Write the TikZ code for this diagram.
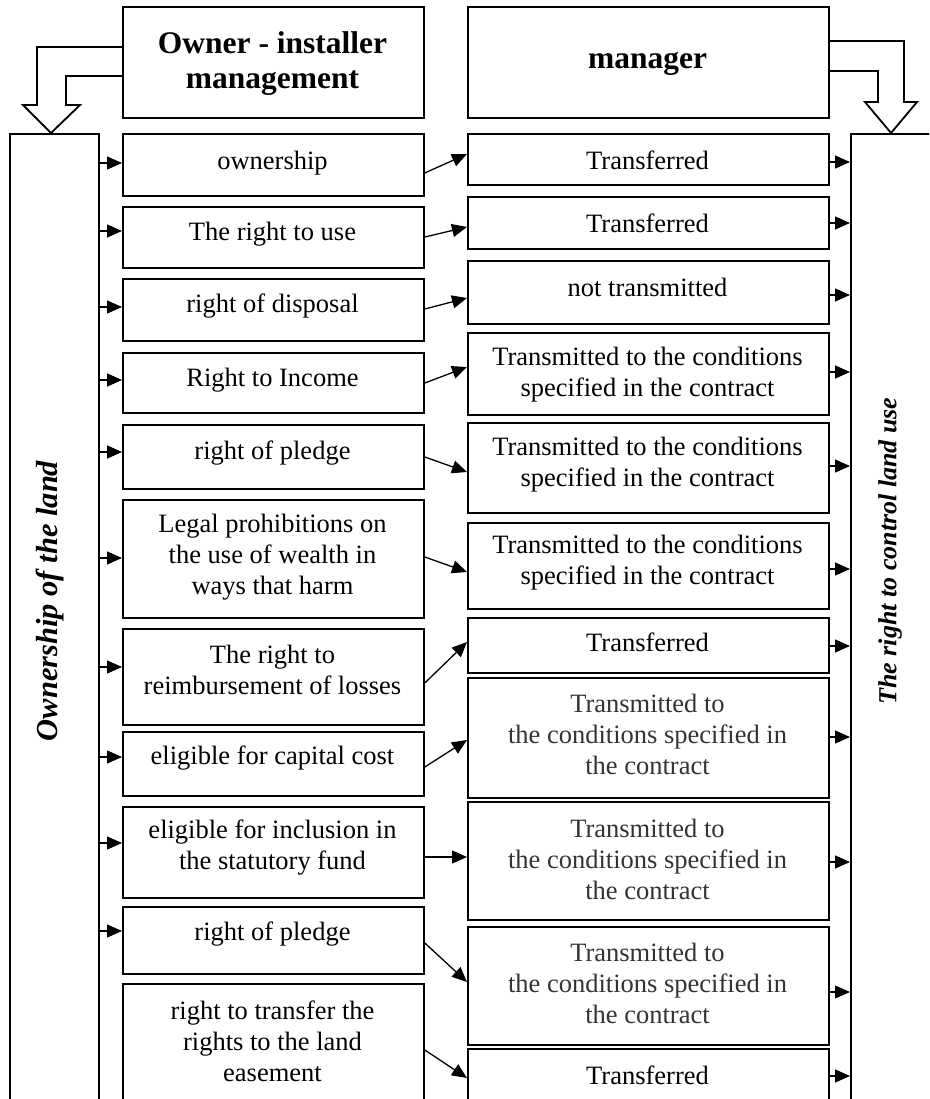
\documentclass[tikz,border=0pt]{standalone}
\usepackage{fontspec}
\setmainfont{Liberation Serif}
\usetikzlibrary{arrows.meta,calc}
\begin{document}
\begin{tikzpicture}[x=1pt,y=-1pt,
  box/.style n args={2}{draw, line width=1.8pt, inner sep=0pt, anchor=north west, minimum width=#1, minimum height=#2},
  txt/.style={align=center, font=\fontsize{26.5}{31}\selectfont, inner sep=0pt},
  gtxt/.style={txt, text=black!80},
  hdr/.style={align=center, font=\fontsize{31.5}{35}\selectfont\bfseries, inner sep=0pt},
  arr/.style={line width=1.3pt, -{Triangle[length=15pt,width=13pt]}},
  hollow/.style={line width=1.8pt, line join=miter},
  side/.style={font=\fontsize{30.5}{36}\selectfont\bfseries\itshape, rotate=90, inner sep=0pt}]

\clip (0,0) rectangle (929,1099);
\fill[white] (0,0) rectangle (929,1099);

% header boxes
\node[box={301}{111}] (H1) at (122,6) {};
\node[box={361}{111}] (H2) at (467,6) {};
\node[hdr] (H1t) at (272.5,64) {Owner - installer\\management};
\node[hdr] (H2t) at (647.5,64) {manager};

% side columns
\node[box={89}{1100}] (LC) at (9,133) {};
\node[box={150}{1100}] (RC) at (850,133) {};
\node[side] (LCt) at (50,601) {Ownership of the land};
\node[side, font=\fontsize{26}{30}\selectfont\bfseries\itshape] (RCt) at (890,551) {The right to control land use};

% hollow arrows
\draw[hollow] (H1.west |- 0,47) -- (37,47) -- (37,105) -- (23,105) -- (LC.north -| 51,0) -- (80,105) -- (66,105) -- (66,76) -- (H1.west |- 0,76);
\draw[hollow] (H2.east |- 0,41) -- (904,41) -- (904,102) -- (917,102) -- (RC.north -| 891,0) -- (865,102) -- (878,102) -- (878,71) -- (H2.east |- 0,71);

% left boxes
\node[box={301}{62}] (L1) at (122,133) {};
\node[box={301}{61}] (L2) at (122,206) {};
\node[box={301}{62}] (L3) at (122,278) {};
\node[box={301}{60}] (L4) at (122,352) {};
\node[box={301}{64}] (L5) at (122,424) {};
\node[box={301}{118}] (L6) at (122,499) {};
\node[box={301}{96}] (L7) at (122,628) {};
\node[box={301}{64}] (L8) at (122,731) {};
\node[box={301}{91}] (L9) at (122,806) {};
\node[box={301}{67}] (L10) at (122,906) {};
\node[box={301}{200}] (L11) at (122,983) {};

\node[txt] (L1t) at (272.5,163) {ownership};
\node[txt] (L2t) at (272.5,234) {The right to use};
\node[txt] (L3t) at (272.5,306) {right of disposal};
\node[txt] (L4t) at (272.5,380) {Right to Income};
\node[txt] (L5t) at (272.5,453) {right of pledge};
\node[txt] (L6t) at (272.5,557) {Legal prohibitions on\\the use of wealth in\\ways that harm};
\node[txt] (L7t) at (272.5,670) {The right to\\reimbursement of losses};
\node[txt] (L8t) at (272.5,758) {eligible for capital cost};
\node[txt] (L9t) at (272.5,848) {eligible for inclusion in\\the statutory fund};
\node[txt] (L10t) at (272.5,934) {right of pledge};
\node[txt] (L11t) at (272.5,1041) {right to transfer the\\rights to the land\\easement};

% right boxes
\node[box={361}{51}] (R1) at (467,133) {};
\node[box={361}{52}] (R2) at (467,196) {};
\node[box={361}{63}] (R3) at (467,260) {};
\node[box={361}{82}] (R4) at (467,332) {};
\node[box={361}{90}] (R5) at (467,422) {};
\node[box={361}{86}] (R6) at (467,522) {};
\node[box={361}{55}] (R7) at (467,617) {};
\node[box={361}{120}] (R8) at (467,677) {};
\node[box={361}{118}] (R9) at (467,801) {};
\node[box={361}{118}] (R10) at (467,926) {};
\node[box={361}{100}] (R11) at (467,1048) {};

\node[txt] (R1t) at (647.5,160) {Transferred};
\node[txt] (R2t) at (647.5,223) {Transferred};
\node[txt] (R3t) at (647.5,287) {not transmitted};
\node[txt] (R4t) at (647.5,375) {Transmitted to the conditions\\specified in the contract};
\node[txt] (R5t) at (647.5,465) {Transmitted to the conditions\\specified in the contract};
\node[txt] (R6t) at (647.5,563) {Transmitted to the conditions\\specified in the contract};
\node[txt] (R7t) at (647.5,642) {Transferred};
\node[gtxt] (R8t) at (647.5,734) {Transmitted to\\the conditions specified in\\the contract};
\node[gtxt] (R9t) at (647.5,859) {Transmitted to\\the conditions specified in\\the contract};
\node[gtxt] (R10t) at (647.5,983) {Transmitted to\\the conditions specified in\\the contract};
\node[txt] (R11t) at (647.5,1075) {Transferred};

% arrows from left column
\foreach \b/\y in {L1/163,L2/231,L3/307,L4/380,L5/452,L6/558,L7/667,L8/757,L9/843,L10/931}
  \draw[arr] (LC.east |- 0,\y) -- (\b.west |- 0,\y);

% arrows from left boxes to right boxes
\draw[arr] (L1.east |- 0,173) -- (R1.west |- 0,154);
\draw[arr] (L2.east |- 0,237) -- (R2.west |- 0,227);
\draw[arr] (L3.east |- 0,309) -- (R3.west |- 0,298);
\draw[arr] (L4.east |- 0,383) -- (R4.west |- 0,367);
\draw[arr] (L5.east |- 0,457) -- (R5.west |- 0,472);
\draw[arr] (L6.east |- 0,557) -- (R6.west |- 0,572);
\draw[arr] (L7.east |- 0,683) -- (R7.west |- 0,642);
\draw[arr] (L8.east |- 0,767) -- (R8.west |- 0,740);
\draw[arr] (L9.east |- 0,857) -- (R9.west |- 0,857);
\draw[arr] (L10.east |- 0,943) -- (R10.west |- 0,982);
\draw[arr] (L11.east |- 0,1050) -- (R11.west |- 0,1078);

% arrows to right column
\foreach \b/\y in {R1/162,R2/223,R3/295,R4/372,R5/466,R6/569,R7/646,R8/737,R9/862,R10/992,R11/1076}
  \draw[arr] (\b.east |- 0,\y) -- (RC.west |- 0,\y);
\end{tikzpicture}
\end{document}
